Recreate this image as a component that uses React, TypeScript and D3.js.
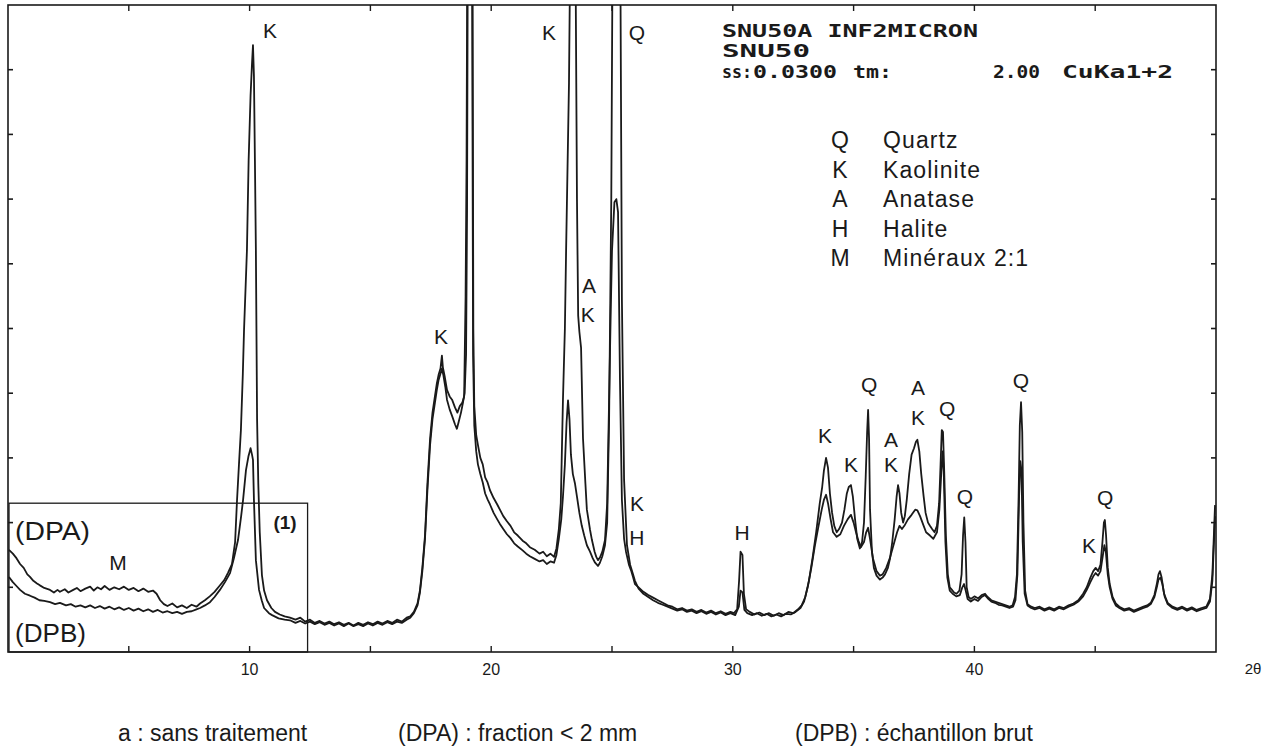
import React from "react";
import * as d3 from "d3";

type P = [number, number];

// DPA : fraction < 2 µm  (2θ, intensity in arbitrary units 0..10)
const dpa: P[] = [
  [0.04,1.58],[0.2,1.52],[0.35,1.45],[0.5,1.36],[0.65,1.30],[0.8,1.20],[0.91,1.16],[1.05,1.10],[1.2,1.06],[1.32,1.03],
  [1.5,0.99],[1.74,0.96],[1.9,0.92],[2.05,0.96],[2.15,0.93],[2.35,0.97],[2.5,0.92],[2.7,0.96],[2.85,0.99],[3.0,0.94],
  [3.2,0.98],[3.4,1.01],[3.55,0.95],[3.7,1.00],[3.85,0.97],[4.0,1.02],[4.2,0.96],[4.4,1.00],[4.6,0.97],[4.8,1.01],
  [5.0,0.96],[5.2,0.99],[5.4,0.94],[5.6,0.98],[5.8,0.93],[6.0,0.95],[6.15,0.90],[6.3,0.80],[6.45,0.74],[6.6,0.71],
  [6.8,0.75],[7.0,0.69],[7.2,0.72],[7.4,0.68],[7.6,0.73],[7.8,0.70],[7.95,0.75],[8.15,0.80],[8.35,0.86],[8.55,0.93],
  [8.75,1.02],[8.95,1.11],[9.1,1.22],[9.27,1.36],[9.4,1.70],[9.48,2.35],[9.56,2.9],[9.64,3.43],[9.72,4.3],[9.77,4.98],
  [9.85,5.8],[9.89,6.21],[9.96,7.6],[10.04,8.6],[10.1,9.1],[10.14,9.38],[10.18,8.9],[10.22,7.6],[10.26,6.21],[10.31,3.59],
  [10.36,2.6],[10.42,1.85],[10.51,1.19],[10.6,0.95],[10.72,0.80],[10.9,0.68],[11.05,0.62],[11.25,0.58],[11.45,0.55],[11.67,0.53],
  [11.9,0.50],[12.1,0.53],[12.3,0.47],[12.5,0.50],[12.7,0.45],[12.9,0.48],[13.1,0.44],[13.3,0.47],[13.5,0.43],[13.7,0.46],
  [13.9,0.42],[14.1,0.45],[14.3,0.41],[14.5,0.45],[14.7,0.42],[14.9,0.46],[15.1,0.43],[15.3,0.47],[15.5,0.44],[15.7,0.48],
  [15.9,0.45],[16.1,0.50],[16.3,0.47],[16.5,0.53],[16.65,0.55],[16.8,0.62],[16.95,0.75],[17.05,0.95],[17.15,1.30],[17.26,1.80],
  [17.36,2.6],[17.47,3.30],[17.57,3.70],[17.67,3.95],[17.75,4.15],[17.82,4.28],[17.9,4.38],[17.96,4.58],[18.0,4.40],[18.08,4.25],
  [18.17,4.05],[18.28,3.95],[18.38,3.90],[18.5,3.78],[18.6,3.70],[18.7,3.80],[18.8,3.85],[18.88,3.95],[18.94,5.5],[18.98,7.6],
  [19.02,12],[19.22,12],[19.26,5.0],[19.3,3.8],[19.38,3.35],[19.45,3.20],[19.55,3.00],[19.65,2.90],[19.75,2.70],[19.85,2.62],
  [19.95,2.50],[20.1,2.38],[20.25,2.28],[20.36,2.20],[20.5,2.10],[20.65,2.02],[20.8,1.95],[20.95,1.85],[21.1,1.80],[21.3,1.72],
  [21.45,1.68],[21.6,1.62],[21.8,1.58],[22.0,1.52],[22.15,1.55],[22.3,1.48],[22.45,1.52],[22.6,1.47],[22.7,1.60],[22.8,1.90],
  [22.88,2.3],[22.97,3.9],[23.05,5.0],[23.1,6.2],[23.22,8.8],[23.3,12],[23.47,12],[23.55,7.0],[23.6,5.2],[23.65,4.95],
  [23.72,4.7],[23.8,3.3],[23.9,2.6],[23.96,2.2],[24.09,1.89],[24.17,1.73],[24.28,1.55],[24.35,1.47],[24.42,1.42],[24.5,1.46],
  [24.6,1.55],[24.71,1.73],[24.8,2.3],[24.88,3.9],[24.95,5.3],[25.0,6.2],[25.1,6.95],[25.18,7.0],[25.25,6.8],[25.33,4.2],
  [25.41,2.35],[25.5,1.75],[25.58,1.55],[25.7,1.35],[25.8,1.25],[25.87,1.16],[25.95,1.05],[26.1,1.00],[26.3,0.93],[26.5,0.88],
  [26.7,0.84],[26.9,0.80],[27.1,0.76],[27.3,0.72],[27.5,0.70],[27.7,0.66],[27.9,0.68],[28.1,0.64],[28.3,0.66],[28.5,0.62],
  [28.7,0.65],[28.9,0.61],[29.1,0.64],[29.3,0.60],[29.5,0.63],[29.7,0.59],[29.9,0.62],[30.05,0.60],[30.18,0.66],[30.26,1.10],
  [30.32,1.55],[30.4,1.50],[30.46,0.90],[30.55,0.66],[30.7,0.62],[30.9,0.58],[31.1,0.61],[31.3,0.57],[31.5,0.60],[31.7,0.56],
  [31.9,0.60],[32.1,0.57],[32.3,0.62],[32.5,0.60],[32.7,0.66],[32.85,0.72],[33.0,0.85],[33.15,1.10],[33.3,1.45],[33.45,1.85],
  [33.6,2.30],[33.7,2.55],[33.77,2.80],[33.86,3.00],[33.94,2.85],[34.02,2.45],[34.11,2.15],[34.2,1.95],[34.3,1.85],[34.4,1.90],
  [34.52,2.00],[34.62,2.20],[34.72,2.45],[34.8,2.55],[34.89,2.58],[34.97,2.40],[35.06,2.05],[35.15,1.75],[35.26,1.60],[35.35,1.70],
  [35.43,2.00],[35.5,2.70],[35.56,3.40],[35.6,3.74],[35.64,3.30],[35.68,2.20],[35.76,1.55],[35.84,1.30],[35.95,1.18],[36.09,1.12],
  [36.2,1.15],[36.3,1.20],[36.42,1.30],[36.51,1.45],[36.6,1.70],[36.7,2.05],[36.78,2.40],[36.84,2.58],[36.9,2.45],[36.97,2.15],
  [37.05,2.00],[37.12,2.10],[37.2,2.35],[37.3,2.75],[37.4,3.05],[37.5,3.15],[37.58,3.25],[37.64,3.28],[37.72,3.10],[37.8,2.75],
  [37.9,2.40],[37.98,2.15],[38.08,2.00],[38.16,1.95],[38.25,1.90],[38.35,1.85],[38.45,1.95],[38.54,2.30],[38.6,2.90],[38.65,3.43],
  [38.7,3.40],[38.75,2.80],[38.82,1.80],[38.9,1.20],[38.98,1.00],[39.07,0.96],[39.16,0.92],[39.26,0.90],[39.38,0.95],[39.47,1.20],
  [39.53,1.80],[39.58,2.08],[39.63,1.70],[39.68,1.00],[39.76,0.85],[39.85,0.82],[40.0,0.86],[40.15,0.83],[40.3,0.88],[40.44,0.90],
  [40.55,0.85],[40.7,0.80],[40.85,0.78],[41.0,0.76],[41.15,0.74],[41.3,0.72],[41.45,0.70],[41.58,0.72],[41.68,0.85],[41.76,1.20],
  [41.83,2.40],[41.88,3.50],[41.93,3.86],[41.98,3.40],[42.03,2.00],[42.1,0.95],[42.2,0.74],[42.35,0.70],[42.5,0.68],[42.7,0.70],
  [42.9,0.66],[43.1,0.69],[43.3,0.66],[43.5,0.70],[43.7,0.68],[43.9,0.72],[44.1,0.75],[44.3,0.80],[44.5,0.90],[44.65,1.00],
  [44.8,1.15],[44.92,1.25],[45.02,1.30],[45.12,1.25],[45.22,1.35],[45.3,1.70],[45.36,2.00],[45.4,2.04],[45.45,1.80],[45.52,1.30],
  [45.6,1.05],[45.72,0.85],[45.85,0.75],[46.0,0.70],[46.2,0.66],[46.4,0.68],[46.6,0.64],[46.8,0.67],[47.0,0.70],[47.15,0.72],
  [47.3,0.76],[47.45,0.88],[47.55,1.05],[47.62,1.20],[47.68,1.25],[47.75,1.15],[47.85,0.90],[48.0,0.76],[48.2,0.70],[48.4,0.67],
  [48.6,0.70],[48.8,0.66],[49.0,0.69],[49.2,0.65],[49.4,0.68],[49.6,0.70],[49.75,0.82],[49.85,1.20],[49.96,2.27],
];

// DPB : échantillon brut
const dpb: P[] = [
  [0.04,1.16],[0.2,1.08],[0.35,1.02],[0.5,0.96],[0.7,0.90],[0.91,0.87],[1.1,0.84],[1.3,0.80],[1.5,0.79],[1.74,0.77],
  [1.95,0.74],[2.15,0.76],[2.4,0.72],[2.6,0.74],[2.8,0.70],[3.0,0.72],[3.2,0.69],[3.4,0.72],[3.6,0.68],[3.8,0.71],
  [4.0,0.67],[4.2,0.70],[4.4,0.66],[4.6,0.69],[4.8,0.65],[5.0,0.68],[5.2,0.64],[5.4,0.67],[5.6,0.63],[5.8,0.66],
  [6.0,0.62],[6.2,0.65],[6.4,0.61],[6.6,0.63],[6.8,0.60],[7.0,0.62],[7.2,0.59],[7.4,0.62],[7.6,0.63],[7.8,0.66],
  [7.95,0.68],[8.15,0.72],[8.36,0.77],[8.55,0.85],[8.77,0.96],[8.98,1.08],[9.19,1.22],[9.35,1.45],[9.52,1.73],[9.65,2.10],
  [9.73,2.35],[9.85,2.81],[9.95,3.02],[10.0,3.09],[10.04,3.15],[10.1,3.05],[10.14,2.97],[10.18,2.35],[10.26,1.42],[10.39,0.96],
  [10.5,0.80],[10.6,0.68],[10.8,0.60],[10.93,0.57],[11.2,0.52],[11.45,0.50],[11.67,0.49],[11.9,0.45],[12.1,0.48],[12.3,0.44],
  [12.5,0.47],[12.7,0.43],[12.9,0.46],[13.1,0.42],[13.3,0.45],[13.5,0.41],[13.7,0.44],[13.9,0.40],[14.1,0.44],[14.3,0.40],
  [14.5,0.43],[14.7,0.40],[14.9,0.44],[15.1,0.41],[15.3,0.45],[15.5,0.42],[15.7,0.46],[15.9,0.43],[16.1,0.47],[16.3,0.45],
  [16.5,0.50],[16.65,0.53],[16.8,0.60],[16.95,0.72],[17.05,0.92],[17.15,1.25],[17.26,1.75],[17.36,2.50],[17.47,3.20],[17.57,3.60],
  [17.67,3.85],[17.75,4.05],[17.82,4.20],[17.9,4.30],[17.96,4.38],[18.02,4.28],[18.1,4.10],[18.17,3.90],[18.28,3.75],[18.38,3.65],
  [18.5,3.52],[18.58,3.45],[18.65,3.55],[18.75,3.70],[18.83,3.85],[18.9,4.0],[18.96,4.6],[19.0,6.8],[19.04,12],[19.2,12],
  [19.25,4.6],[19.3,3.5],[19.38,3.10],[19.45,2.90],[19.55,2.75],[19.65,2.62],[19.75,2.45],[19.85,2.36],[19.95,2.28],[20.1,2.15],
  [20.25,2.05],[20.36,1.98],[20.5,1.90],[20.65,1.82],[20.8,1.76],[20.95,1.68],[21.1,1.63],[21.3,1.57],[21.45,1.52],[21.6,1.48],
  [21.8,1.44],[22.0,1.40],[22.15,1.42],[22.3,1.36],[22.45,1.40],[22.6,1.38],[22.7,1.50],[22.8,1.75],[22.9,2.05],[22.97,2.40],
  [23.05,2.90],[23.12,3.55],[23.18,3.89],[23.24,3.60],[23.3,3.05],[23.38,2.75],[23.47,2.60],[23.55,2.40],[23.65,2.15],[23.75,1.95],
  [23.85,1.80],[23.96,1.65],[24.09,1.55],[24.2,1.45],[24.3,1.38],[24.42,1.33],[24.5,1.38],[24.6,1.48],[24.71,1.65],[24.8,2.0],
  [24.88,3.6],[24.97,6.99],[25.04,12],[25.33,12],[25.41,5.44],[25.5,2.66],[25.62,1.65],[25.75,1.35],[25.87,1.20],[25.95,1.10],
  [26.1,0.98],[26.3,0.90],[26.5,0.85],[26.7,0.80],[26.9,0.76],[27.1,0.73],[27.3,0.70],[27.5,0.67],[27.7,0.64],[27.9,0.66],
  [28.1,0.62],[28.3,0.64],[28.5,0.60],[28.7,0.63],[28.9,0.59],[29.1,0.62],[29.3,0.58],[29.5,0.61],[29.7,0.57],[29.9,0.60],
  [30.1,0.57],[30.25,0.70],[30.32,0.95],[30.4,0.92],[30.48,0.65],[30.6,0.60],[30.8,0.57],[31.0,0.60],[31.2,0.56],[31.4,0.59],
  [31.6,0.55],[31.8,0.58],[32.0,0.55],[32.2,0.59],[32.4,0.58],[32.6,0.62],[32.8,0.68],[32.95,0.78],[33.1,1.00],[33.25,1.30],
  [33.4,1.65],[33.55,1.95],[33.68,2.20],[33.77,2.35],[33.86,2.43],[33.94,2.30],[34.05,2.05],[34.15,1.85],[34.3,1.78],[34.45,1.82],
  [34.6,1.95],[34.75,2.05],[34.89,2.12],[35.0,2.0],[35.1,1.85],[35.2,1.72],[35.3,1.62],[35.43,1.70],[35.52,1.85],[35.6,1.92],
  [35.68,1.75],[35.8,1.45],[35.95,1.25],[36.09,1.18],[36.2,1.20],[36.35,1.30],[36.5,1.45],[36.65,1.65],[36.8,1.85],[36.9,1.95],
  [37.0,1.90],[37.1,1.95],[37.25,2.05],[37.4,2.12],[37.55,2.20],[37.64,2.19],[37.75,2.10],[37.9,1.95],[38.0,1.85],[38.16,1.80],
  [38.3,1.75],[38.45,1.85],[38.55,2.20],[38.62,2.70],[38.68,3.10],[38.73,2.80],[38.8,1.70],[38.88,1.15],[38.98,0.95],[39.1,0.90],
  [39.25,0.86],[39.4,0.88],[39.5,1.00],[39.57,1.05],[39.64,0.95],[39.72,0.82],[39.85,0.78],[40.0,0.82],[40.15,0.79],[40.3,0.85],
  [40.44,0.88],[40.55,0.83],[40.7,0.78],[40.85,0.76],[41.0,0.73],[41.15,0.72],[41.3,0.70],[41.45,0.68],[41.6,0.70],[41.7,0.80],
  [41.78,1.20],[41.85,2.40],[41.9,2.95],[41.95,2.80],[42.0,1.70],[42.08,0.90],[42.2,0.72],[42.35,0.68],[42.5,0.66],[42.7,0.68],
  [42.9,0.64],[43.1,0.67],[43.3,0.64],[43.5,0.68],[43.7,0.66],[43.9,0.70],[44.1,0.73],[44.3,0.78],[44.5,0.86],[44.65,0.96],
  [44.8,1.08],[44.92,1.17],[45.02,1.22],[45.12,1.18],[45.22,1.25],[45.3,1.45],[45.38,1.65],[45.44,1.55],[45.52,1.20],[45.6,1.00],
  [45.72,0.82],[45.85,0.72],[46.0,0.68],[46.2,0.64],[46.4,0.66],[46.6,0.62],[46.8,0.65],[47.0,0.68],[47.15,0.70],[47.3,0.74],
  [47.45,0.85],[47.55,1.00],[47.62,1.12],[47.7,1.15],[47.78,1.05],[47.88,0.85],[48.0,0.74],[48.2,0.68],[48.4,0.65],[48.6,0.68],
  [48.8,0.64],[49.0,0.67],[49.2,0.63],[49.4,0.66],[49.6,0.68],[49.75,0.78],[49.85,1.10],[49.96,2.10],
];

const xMinorTicks = [5, 10, 15, 20, 25, 30, 35, 40, 45];
const xTickLabels = [10, 20, 30, 40];
const yTicks = [1, 2, 3, 4, 5, 6, 7, 8, 9];

// peak annotations: label, 2θ, intensity level
const peakText = ["K", "K", "Q", "K", "A", "K", "K", "H", "H", "K", "K", "Q", "A", "K", "A", "K", "Q", "Q", "Q", "K", "Q", "M"];
const peakTheta = [10.84, 22.39, 26.03, 17.92, 24.05, 24.0, 26.03, 26.03, 30.38, 33.82, 34.89, 35.64, 36.55, 36.55, 37.67, 37.67, 38.87, 39.61, 41.93, 44.74, 45.41, 4.55];
const peakLevel = [9.61, 9.58, 9.58, 4.87, 5.67, 5.21, 2.30, 1.76, 1.84, 3.35, 2.89, 4.13, 3.28, 2.89, 4.08, 3.62, 3.76, 2.40, 4.19, 1.65, 2.38, 1.38];

const legendCodes = ["Q", "K", "A", "H", "M"];
const legendNames = ["Quartz", "Kaolinite", "Anatase", "Halite", "Minéraux 2:1"];

const headerLine1 = "SNU50A INF2MICRON";
const headerLine2 = "SNU50";
const headerParts = ["ss:", "0.0300", "tm:", "2.00", "CuKa1+2"];

const captions = ["a : sans traitement", "(DPA) : fraction < 2 mm", "(DPB) : échantillon brut"];

// zoomed region (1): 2θ 0 → 12.4, intensity 0 → 2.3
const boxTheta = [0, 12.4];
const boxLevel = [0, 2.3];

export default function App() {
  const W = 1268, H = 754;
  const x = d3.scaleLinear().domain([0, 50]).range([8, 1216]);
  const y = d3.scaleLinear().domain([0, 10]).range([652, 5]);
  const line = d3.line<P>().x(d => x(d[0])).y(d => y(d[1]));
  const sans = "'Liberation Sans', Arial, sans-serif";
  const mono = "'DejaVu Sans Mono', 'Liberation Mono', monospace";
  const ink = "#1a1a1a";
  const headerX = [722, 753, 853, 993, 1062];
  const headerW = [30, 84, 39, 47, 111];
  const captionX = [118, 398, 795];
  return (
    <svg width={W} height={H} style={{ position: "absolute", left: 0, top: 0, background: "#fff" }}>
      <defs>
        <clipPath id="plotClip">
          <rect x={x(0)} y={y(10)} width={x(50) - x(0)} height={y(0) - y(10)} />
        </clipPath>
      </defs>
      <rect x={0} y={0} width={W} height={H} fill="#fff" />
      {/* frame */}
      <rect x={x(0)} y={y(10)} width={x(50) - x(0)} height={y(0) - y(10)} fill="none" stroke={ink} strokeWidth={1.6} />
      {/* ticks */}
      {xMinorTicks.map(t => (
        <g key={"xt" + t}>
          <line x1={x(t)} x2={x(t)} y1={y(0)} y2={y(0) - 6} stroke={ink} strokeWidth={1.4} />
          <line x1={x(t)} x2={x(t)} y1={y(10)} y2={y(10) + 6} stroke={ink} strokeWidth={1.4} />
        </g>
      ))}
      {yTicks.map(t => (
        <g key={"yt" + t}>
          <line x1={x(0)} x2={x(0) + 5} y1={y(t)} y2={y(t)} stroke={ink} strokeWidth={1.6} />
          <line x1={x(50)} x2={x(50) - 5} y1={y(t)} y2={y(t)} stroke={ink} strokeWidth={1.6} />
        </g>
      ))}
      {xTickLabels.map(t => (
        <text key={"xl" + t} x={x(t)} y={675} textAnchor="middle" fontFamily={sans} fontSize={16} fill={ink}>{t}</text>
      ))}
      <text x={1253} y={674} textAnchor="middle" fontFamily={sans} fontSize={15} fill={ink}>2θ</text>

      {/* zoom box (1) */}
      <rect x={x(boxTheta[0]) + 1} y={y(boxLevel[1])} width={x(boxTheta[1]) - x(boxTheta[0]) - 1} height={y(boxLevel[0]) - y(boxLevel[1])} fill="none" stroke={ink} strokeWidth={1.3} />
      <text x={285} y={529} textAnchor="middle" fontFamily={sans} fontWeight="bold" fontSize={19} fill={ink}>(1)</text>

      {/* curves */}
      <g clipPath="url(#plotClip)">
        <path d={line(dpb) || ""} fill="none" stroke={ink} strokeWidth={1.8} strokeLinejoin="round" />
        <path d={line(dpa) || ""} fill="none" stroke={ink} strokeWidth={1.8} strokeLinejoin="round" />
      </g>

      {/* series labels */}
      <text x={15} y={540} fontFamily={sans} fontSize={25} textLength={75} lengthAdjust="spacingAndGlyphs" fill={ink}>(DPA)</text>
      <text x={15} y={642} fontFamily={sans} fontSize={25} textLength={71} lengthAdjust="spacingAndGlyphs" fill={ink}>(DPB)</text>

      {/* peak labels */}
      {peakText.map((s, i) => (
        <text key={"pk" + i} x={x(peakTheta[i])} y={y(peakLevel[i])} dy="0.35em" textAnchor="middle" fontFamily={sans} fontSize={21} fill={ink}>{s}</text>
      ))}

      {/* header */}
      <text x={722} y={37} fontFamily={mono} fontWeight="bold" fontSize={17} textLength={256} lengthAdjust="spacingAndGlyphs" fill={ink}>{headerLine1}</text>
      <text x={722} y={57} fontFamily={mono} fontWeight="bold" fontSize={17} textLength={88} lengthAdjust="spacingAndGlyphs" fill={ink}>{headerLine2}</text>
      {headerParts.map((s, i) => (
        <text key={"hp" + i} x={headerX[i]} y={78} fontFamily={mono} fontWeight="bold" fontSize={17} textLength={headerW[i]} lengthAdjust="spacingAndGlyphs" fill={ink}>{s}</text>
      ))}

      {/* legend */}
      {legendCodes.map((c, i) => (
        <g key={"lg" + c}>
          <text x={840} y={148 + i * 29.5} textAnchor="middle" fontFamily={sans} fontSize={23} fill={ink}>{c}</text>
          <text x={883} y={148 + i * 29.5} fontFamily={sans} fontSize={23} letterSpacing={1.1} fill={ink}>{legendNames[i]}</text>
        </g>
      ))}

      {/* captions */}
      {captions.map((c, i) => (
        <text key={"cap" + i} x={captionX[i]} y={741} fontFamily={sans} fontSize={23} fill={ink}>{c}</text>
      ))}
    </svg>
  );
}
